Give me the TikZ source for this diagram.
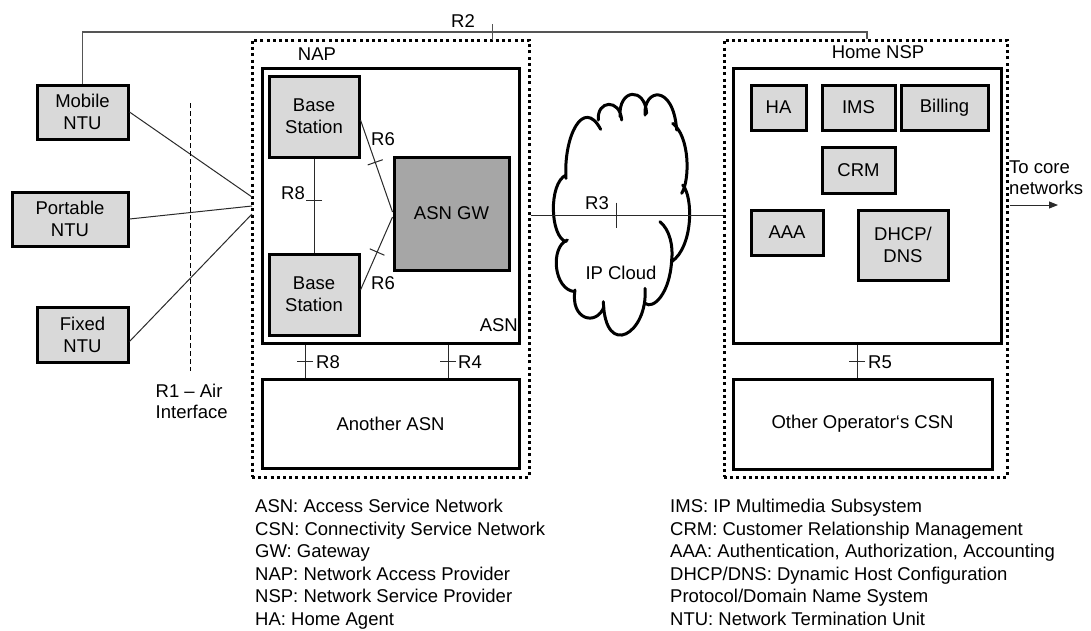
\documentclass[tikz,border=0pt]{standalone}
\usepackage{fontspec}
\setmainfont{Liberation Sans}
\usetikzlibrary{calc,arrows.meta}
\definecolor{boxgray}{HTML}{D9D9D9}
\definecolor{gwgray}{HTML}{A6A6A6}
\definecolor{wirecol}{HTML}{2A2A2A}
\definecolor{topwire}{HTML}{555555}
\begin{document}
\begin{tikzpicture}[x=1pt,y=-1pt,
  font=\fontsize{18.5}{22}\selectfont,
  box/.style={draw=black, line width=3pt, fill=boxgray, inner sep=0pt, align=center},
  gwbox/.style={box, fill=gwgray},
  plainbox/.style={draw=black, line width=3pt, fill=white, inner sep=0pt, align=center},
  dotbox/.style={draw=black, line width=3pt, dash pattern=on 3pt off 3.2pt, inner sep=0pt},
  wire/.style={draw=wirecol, line width=1pt},
  lbl/.style={inner sep=0pt},
  cloudline/.style={draw=black, line width=3pt, line cap=round},
]
\useasboundingbox (0,0) rectangle (1091,630);

% --- terminals ---
\node[box, minimum width=91pt, minimum height=54pt] (mob) at (82.5,112) {Mobile\\NTU};
\node[box, minimum width=116pt, minimum height=54pt] (port) at (70,219) {Portable\\NTU};
\node[box, minimum width=91pt, minimum height=55pt] (fix) at (82.5,334.5) {Fixed\\NTU};

% --- access provider ---
\node[dotbox, minimum width=277pt, minimum height=437pt] (nap) at (390.5,258.5) {};
\node[lbl] (naplbl) at (317,54) {NAP};
\node[plainbox, minimum width=257pt, minimum height=275pt] (asn) at (390.5,205.5) {};
\node[lbl, anchor=east] (asnlbl) at (518,325) {ASN};
\node[box, minimum width=90pt, minimum height=81pt] (bs1) at (314,116.5) {Base\\Station};
\node[box, minimum width=90pt, minimum height=81pt] (bs2) at (314,294.5) {Base\\Station};
\node[gwbox, minimum width=115pt, minimum height=113pt] (gw) at (451.5,213.5) {ASN GW};
\node[plainbox, minimum width=257pt, minimum height=89pt] (oasn) at (390.5,423.5) {Another ASN};

% --- service provider ---
\node[dotbox, minimum width=283pt, minimum height=437pt] (nsp) at (865.5,258.5) {};
\node[lbl] (nsplbl) at (878,52) {Home NSP};
\node[plainbox, minimum width=268pt, minimum height=275pt] (csn) at (867,205.5) {};
\node[box, minimum width=55pt, minimum height=45pt] (ha) at (778.5,107.5) {HA};
\node[box, minimum width=73pt, minimum height=45pt] (ims) at (858.5,107.5) {IMS};
\node[box, minimum width=87pt, minimum height=45pt] (bill) at (944.5,107.5) {Billing};
\node[box, minimum width=73pt, minimum height=46pt] (crm) at (858.5,170) {CRM};
\node[box, minimum width=72pt, minimum height=45pt] (aaa) at (787,232.5) {AAA};
\node[box, minimum width=90pt, minimum height=70pt] (dhcp) at (903,245) {DHCP/\\DNS};
\node[plainbox, minimum width=259pt, minimum height=90pt] (ocsn) at (862.5,424) {Other Operator‘s CSN};

% --- IP cloud ---
\begin{scope}[shift={(530,60)}, xscale=1/3, yscale=1/3]
  \draw[cloudline]
    (108,355) .. controls (100,230) and (160,110) .. (212,208)
    (205,180) .. controls (200,120) and (270,115) .. (275,180)
    (270,170) .. controls (265,85) and (345,80) .. (350,160)
    (345,165) .. controls (340,85) and (430,70) .. (440,210)
    (428,190) .. controls (480,230) and (480,360) .. (455,400)
    (458,375) .. controls (490,410) and (490,560) .. (425,605)
    (390,485) .. controls (420,510) and (430,560) .. (425,600)
    (425,600) .. controls (420,700) and (370,750) .. (345,730)
    (345,685) .. controls (355,820) and (225,900) .. (220,725)
    (222,740) .. controls (200,800) and (120,780) .. (135,690)
    (135,695) .. controls (70,690) and (60,560) .. (112,540)
    (108,545) .. controls (60,530) and (55,370) .. (108,345);
\end{scope}
\node[lbl] (cloudlbl) at (621,273) {IP Cloud};

% --- air interface ---
\coordinate (m1) at (252,197);
\coordinate (m2) at (252,206);
\coordinate (m3) at (252,214);
\draw[wire] (mob.east) -- (m1);
\draw[wire] (port.east) -- (m2);
\draw[wire] ([yshift=-7pt]fix.east) -- (m3);
\coordinate (airtop) at (190,103);
\coordinate (airbot) at (190,371);
\draw[draw=black, line width=1pt, dash pattern=on 5pt off 3pt] (airtop) -- (airbot);
\node[lbl, anchor=base west] (r1a) at (155.5,397) {R1 – Air};
\node[lbl, anchor=base west] (r1b) at (155.5,418) {Interface};

% --- R2 ---
\coordinate (r2turn) at (867,32);
\draw[draw=topwire, line width=1.3pt] (mob.north) |- (r2turn) -- (r2turn |- nsp.north);
\path (mob.north |- r2turn) -- (r2turn) coordinate[pos=0.523] (t2);
\draw[draw=topwire, line width=1.3pt] ($(t2)!8pt!90:(r2turn)$) -- ($(t2)!8pt!-90:(r2turn)$);
\node[lbl] (r2lbl) at (463,21) {R2};

% --- R8 between base stations ---
\draw[wire] (bs1.south) -- (bs2.north) coordinate[pos=0.45] (t8);
\draw[wire] ($(t8)!8pt!90:(bs2.north)$) -- ($(t8)!8pt!-90:(bs2.north)$);
\node[lbl] (r8lbl) at (293,193) {R8};

% --- R6 links ---
\coordinate (s6a) at ([yshift=-3.5pt]bs1.east);
\coordinate (e6a) at ([yshift=1.5pt]gw.west);
\coordinate (s6b) at ([yshift=4.5pt]bs2.east);
\coordinate (e6b) at ([yshift=-3.5pt]gw.west);
\draw[wire] (s6a) -- (e6a) coordinate[pos=0.46] (t6a);
\draw[wire] ($(t6a)!8pt!90:(e6a)$) -- ($(t6a)!8pt!-90:(e6a)$);
\node[lbl] (r6a) at (383,139) {R6};
\draw[wire] (s6b) -- (e6b) coordinate[pos=0.52] (t6b);
\draw[wire] ($(t6b)!8pt!90:(e6b)$) -- ($(t6b)!8pt!-90:(e6b)$);
\node[lbl] (r6b) at (383,283) {R6};

% --- R3 across the cloud ---
\coordinate (r3lev) at (0,215);
\coordinate (r3end) at (r3lev -| nsp.west);
\draw[wire] (r3lev -| nap.east) -- (r3end) coordinate[pos=0.45] (t3);
\draw[wire] ($(t3)!12.5pt!90:(r3end)$) -- ($(t3)!12.5pt!-90:(r3end)$);
\node[lbl] (r3lbl) at (597,203) {R3};

% --- R8 / R4 / R5 down links ---
\coordinate (x8) at (305,0);
\coordinate (x4) at (448,0);
\coordinate (x5) at (857,0);
\draw[wire] (asn.south -| x8) -- (oasn.north -| x8) coordinate[pos=0.5] (t8b);
\draw[wire] ($(t8b)!8pt!90:(oasn.north -| x8)$) -- ($(t8b)!8pt!-90:(oasn.north -| x8)$);
\node[lbl, anchor=west] (r8b) at (316,362) {R8};
\draw[wire] (asn.south -| x4) -- (oasn.north -| x4) coordinate[pos=0.5] (t4);
\draw[wire] ($(t4)!8pt!90:(oasn.north -| x4)$) -- ($(t4)!8pt!-90:(oasn.north -| x4)$);
\node[lbl, anchor=west] (r4lbl) at (458,362) {R4};
\draw[wire] (csn.south -| x5) -- (ocsn.north -| x5) coordinate[pos=0.5] (t5);
\draw[wire] ($(t5)!8pt!90:(ocsn.north -| x5)$) -- ($(t5)!8pt!-90:(ocsn.north -| x5)$);
\node[lbl, anchor=west] (r5lbl) at (868,362) {R5};

% --- exit to core networks ---
\coordinate (corelev) at (0,205);
\coordinate (coretip) at (1058,205);
\draw[wire, -{Triangle[length=9pt,width=7pt]}] ([xshift=1.5pt]corelev -| nsp.east) -- (coretip);
\node[lbl, anchor=base west] (core1) at (1009,173) {To core};
\node[lbl, anchor=base west] (core2) at (1009,194.5) {networks};

% --- abbreviations ---
\node[lbl, anchor=base west] (la1) at (255,512) {ASN: Access Service Network};
\node[lbl, anchor=base west] (la2) at (255,535) {CSN: Connectivity Service Network};
\node[lbl, anchor=base west] (la3) at (255,557) {GW: Gateway};
\node[lbl, anchor=base west] (la4) at (255,580) {NAP: Network Access Provider};
\node[lbl, anchor=base west] (la5) at (255,602) {NSP: Network Service Provider};
\node[lbl, anchor=base west] (la6) at (255,625) {HA: Home Agent};
\node[lbl, anchor=base west] (lb1) at (670,512) {IMS: IP Multimedia Subsystem};
\node[lbl, anchor=base west] (lb2) at (670,535) {CRM: Customer Relationship Management};
\node[lbl, anchor=base west] (lb3) at (670,557) {AAA: Authentication, Authorization, Accounting};
\node[lbl, anchor=base west] (lb4) at (670,580) {DHCP/DNS: Dynamic Host Configuration};
\node[lbl, anchor=base west] (lb5) at (670,602) {Protocol/Domain Name System};
\node[lbl, anchor=base west] (lb6) at (670,625) {NTU: Network Termination Unit};
\end{tikzpicture}
\end{document}
